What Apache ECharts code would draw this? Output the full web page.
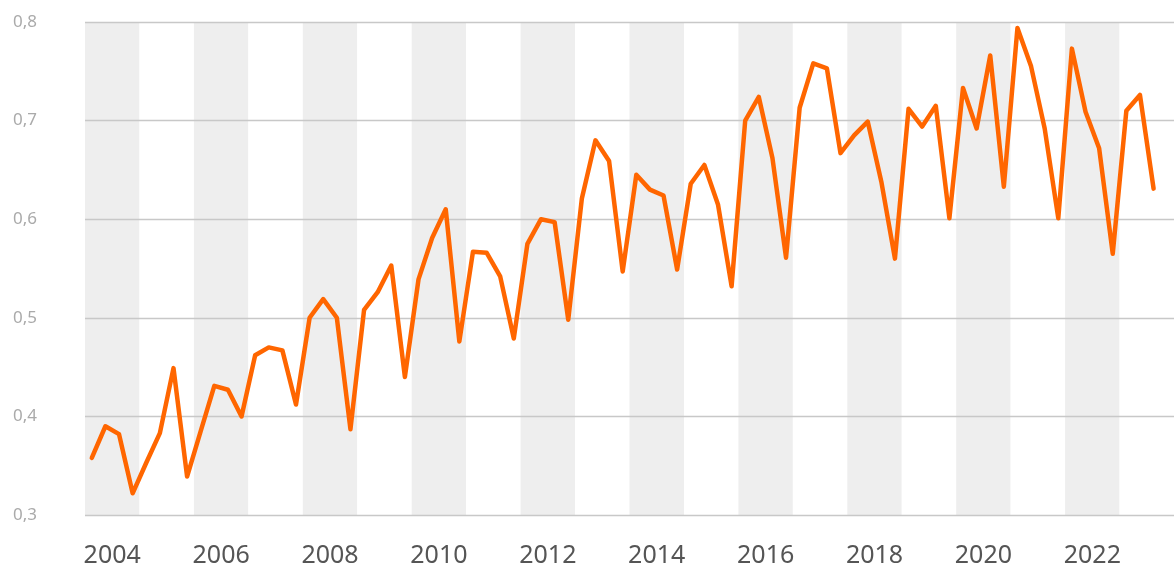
<!DOCTYPE html>
<html>
<head>
<meta charset="utf-8">
<script src="https://cdn.jsdelivr.net/npm/echarts@6/dist/echarts.min.js"></script>
<style>html,body{margin:0;padding:0;background:#fff}#c{width:1176px;height:568px}</style>
</head>
<body>
<div id="c"></div>
<script>
// Year categories (shaded bands + labels)
var years = ['2004','2005','2006','2007','2008','2009','2010','2011','2012','2013',
             '2014','2015','2016','2017','2018','2019','2020','2021','2022','2023'];
// Quarter index within year (1..4) for each observation
var quartersPerYear = [1, 2, 3, 4];
// Quarterly values, 2004Q1 .. 2023Q3
var values = [
  0.358, 0.390, 0.382, 0.322,
  0.353, 0.383, 0.449, 0.339,
  0.385, 0.431, 0.427, 0.400,
  0.462, 0.470, 0.467, 0.412,
  0.500, 0.519, 0.500, 0.387,
  0.508, 0.526, 0.553, 0.440,
  0.539, 0.581, 0.610, 0.476,
  0.567, 0.566, 0.542, 0.479,
  0.575, 0.600, 0.597, 0.498,
  0.621, 0.680, 0.659, 0.547,
  0.645, 0.630, 0.624, 0.549,
  0.636, 0.655, 0.615, 0.532,
  0.700, 0.724, 0.662, 0.561,
  0.713, 0.758, 0.753, 0.667,
  0.685, 0.699, 0.638, 0.560,
  0.712, 0.694, 0.715, 0.601,
  0.733, 0.692, 0.766, 0.633,
  0.794, 0.755, 0.692, 0.601,
  0.773, 0.709, 0.672, 0.565,
  0.710, 0.726, 0.631
];
var yTicks = [0.3, 0.4, 0.5, 0.6, 0.7, 0.8];

var lineData = values.map(function (v, i) {
  var y = parseInt(years[0], 10) + Math.floor(i / 4);
  var q = quartersPerYear[i % 4];
  return [y + (q - 0.5) / 4, v];
});

var chart = echarts.init(document.getElementById('c'), null, {renderer: 'canvas'});
chart.setOption({
  animation: false,
  backgroundColor: '#ffffff',
  grid: {left: 85, right: 2, top: 22, bottom: 52, containLabel: false},
  xAxis: [{
    type: 'category',
    data: years,
    boundaryGap: true,
    z: 0,
    axisLine: {show: false},
    axisTick: {show: false},
    axisLabel: {
      interval: 1, margin: 28, color: '#555555', fontSize: 25,
      fontFamily: 'Noto Sans'
    },
    splitLine: {show: false},
    splitArea: {show: true, interval: 0, areaStyle: {color: ['#eeeeee', '#ffffff']}}
  }, {
    type: 'value',
    min: 2004, max: 2024,
    show: false,
    splitLine: {show: false}
  }],
  yAxis: {
    type: 'value',
    min: yTicks[0], max: yTicks[yTicks.length - 1], interval: 0.1,
    z: 3,
    axisLine: {show: false},
    axisTick: {show: false},
    axisLabel: {
      margin: 48, color: '#aaaaaa', fontSize: 17, fontFamily: 'Noto Sans', align: 'right',
      formatter: function (v) { return v.toFixed(1).replace('.', ','); }
    },
    splitLine: {show: true, lineStyle: {color: '#c8c8c8', width: 1.3}}
  },
  series: [{
    type: 'line',
    xAxisIndex: 1,
    data: lineData,
    symbol: 'none',
    lineStyle: {color: '#ff6600', width: 4.5, cap: 'round', join: 'round'},
    z: 5
  }]
});
</script>
</body>
</html>
